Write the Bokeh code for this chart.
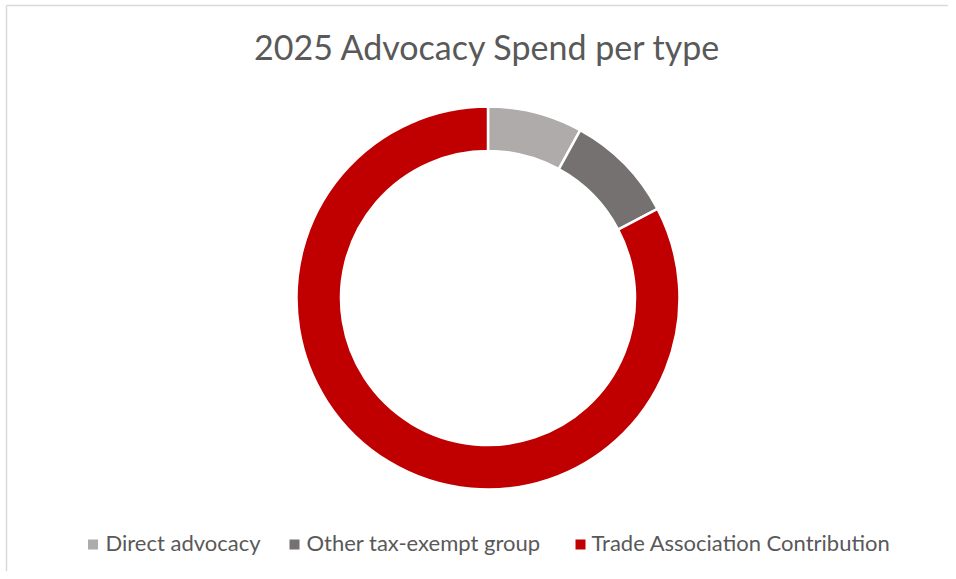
import math
from bokeh.plotting import figure
from bokeh.models import Range1d, ColumnDataSource
from bokeh.core.properties import value
from bokeh.embed import file_html
from bokeh.resources import INLINE

# ---- data ----
categories = ["Direct advocacy", "Other tax-exempt group", "Trade Association Contribution"]
shares = [8.0, 9.3, 82.7]
colors = ["#AEABAA", "#767171", "#C00000"]
title_text = "2025 Advocacy Spend per type"

# ---- layout (picture pixel coordinates, y measured from top) ----
W, H = 948, 571
def Y(ypix):
    return H - ypix

cx, cy = 487.5, 297.5
r_out, r_in = 191.5, 147.0
FONT = "Lato"
TXT = "#595959"

p = figure(width=W, height=H, x_range=Range1d(0, W), y_range=Range1d(0, H),
           output_backend="svg", toolbar_location=None, min_border=0,
           x_axis_location=None, y_axis_location=None)
p.grid.visible = False
p.outline_line_color = None
p.background_fill_color = "white"
p.border_fill_color = "white"

# chart-area border (top and left only visible in reference)
p.segment(x0=[6, 6], y0=[Y(5), Y(5)], x1=[W, 6], y1=[Y(5), 0],
          line_color="#D9D9D9", line_width=1.5)

# ---- donut ----
total = sum(shares)
starts, ends = [], []
cum = 0.0
for s in shares:
    starts.append(math.pi / 2 - 2 * math.pi * cum / total)
    cum += s
    ends.append(math.pi / 2 - 2 * math.pi * cum / total)

src = ColumnDataSource(dict(cat=categories, share=shares, color=colors, start=starts, end=ends))
p.annular_wedge(x=cx, y=Y(cy), inner_radius=r_in, outer_radius=r_out,
                start_angle="start", end_angle="end", direction="clock",
                fill_color="color", line_color="white", line_width=2.5, source=src)

# ---- title ----
p.text(x=[cx], y=[Y(46)], text=[title_text], text_font=value(FONT), text_font_size="34px",
       text_color=TXT, text_align="center", text_baseline="alphabetic")

# ---- legend ----
marker_x = [92.5, 294, 580]
text_x = [105, 306, 591]
leg_src = ColumnDataSource(dict(mx=marker_x, tx=text_x, my=[Y(544)] * 3, ty=[Y(541.5)] * 3,
                                label=categories, color=colors))
p.scatter(x="mx", y="my", marker="square", size=10, fill_color="color", line_color=None, source=leg_src)
p.text(x="tx", y="ty", text="label", text_font=value(FONT), text_font_size="22px",
       text_color=TXT, text_align="left", text_baseline="alphabetic", source=leg_src)

open("out.html", "w").write(file_html(p, INLINE))
